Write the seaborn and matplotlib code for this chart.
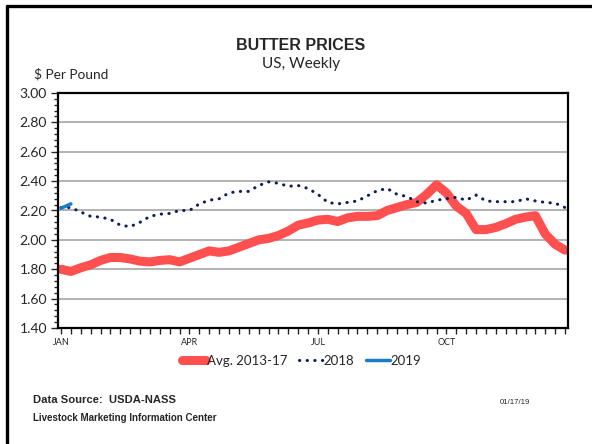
import matplotlib
matplotlib.use("Agg")
import matplotlib.pyplot as plt
import matplotlib.ticker as mticker
from matplotlib.lines import Line2D
import seaborn as sns
import numpy as np

# weekly butter prices, $ per pound
weeks = list(range(1, 53))
avg_13_17 = [1.80, 1.785, 1.81, 1.83, 1.86, 1.88, 1.88, 1.87, 1.855, 1.85,
             1.86, 1.865, 1.85, 1.875, 1.90, 1.925, 1.915, 1.925, 1.95, 1.975,
             2.00, 2.01, 2.03, 2.06, 2.10, 2.115, 2.135, 2.14, 2.125, 2.15,
             2.16, 2.16, 2.165, 2.20, 2.22, 2.24, 2.255, 2.31, 2.375, 2.32,
             2.23, 2.18, 2.07, 2.07, 2.085, 2.11, 2.14, 2.155, 2.165, 2.04,
             1.97, 1.93]
y2018 = [2.22, 2.22, 2.19, 2.16, 2.155, 2.14, 2.10, 2.09, 2.12, 2.16,
         2.175, 2.18, 2.20, 2.20, 2.245, 2.27, 2.28, 2.32, 2.33, 2.33,
         2.37, 2.395, 2.385, 2.365, 2.37, 2.35, 2.31, 2.255, 2.245, 2.255,
         2.265, 2.30, 2.335, 2.35, 2.31, 2.295, 2.26, 2.25, 2.27, 2.28,
         2.29, 2.27, 2.305, 2.265, 2.26, 2.26, 2.26, 2.28, 2.265, 2.255,
         2.25, 2.22]
y2019 = [2.215, 2.245]
month_weeks = [1, 14, 27, 40]
month_labels = ["JAN", "APR", "JUL", "OCT"]

sns.set_style("white")
plt.rcParams['font.family'] = ['Lato', 'DejaVu Sans']

fig = plt.figure(figsize=(5.92, 4.44), dpi=100)
ax = fig.add_axes([58 / 592, 1 - 328 / 444, 510 / 592, 235 / 444])

sns.lineplot(x=weeks, y=avg_13_17, ax=ax, color="#FF4F4F", linewidth=6.5,
             label="Avg. 2013-17")
sns.lineplot(x=weeks, y=y2018, ax=ax, color="#0F1F5C", linewidth=2.2,
             label="2018", linestyle=(0, (0.1, 2.4)), dash_capstyle="round")
sns.lineplot(x=weeks[:len(y2019)], y=y2019, ax=ax, color="#1A7BC6",
             linewidth=2.5, label="2019")

ax.set_xlim(0.7, 52.3)
ax.set_ylim(1.40, 3.00)
ax.yaxis.set_major_locator(mticker.MultipleLocator(0.2))
ax.yaxis.set_minor_locator(mticker.MultipleLocator(0.04))
ax.yaxis.set_major_formatter(mticker.FormatStrFormatter("%.2f"))
ax.set_xticks(weeks, minor=True)
ax.set_xticks(month_weeks)
ax.set_xticklabels(month_labels)
ax.tick_params(axis="x", which="both", direction="out", length=4, width=1,
               labelsize=6.5, pad=3, bottom=True)
ax.tick_params(axis="y", which="major", direction="out", length=5, width=1,
               labelsize=10, pad=3, left=True)
ax.tick_params(axis="y", which="minor", direction="out", length=3, width=1,
               left=True)
ax.grid(axis="y", which="major", color="#A6A6A6", linewidth=1.2)
for sp in ax.spines.values():
    sp.set_color("black")
    sp.set_linewidth(1.6)
ax.set_xlabel("")
ax.set_ylabel("")

ax.legend(loc="center", bbox_to_anchor=(0.478, -0.14), ncol=3, frameon=False,
          fontsize=9.5, handlelength=1.8, handletextpad=0.05,
          columnspacing=0.9)

fig.text(301 / 592, 1 - 45 / 444, "BUTTER PRICES", ha="center", va="center",
         fontsize=11.5, fontweight="bold", family="Liberation Sans")
fig.text(301 / 592, 1 - 64 / 444, "US, Weekly", ha="center", va="center",
         fontsize=11)
fig.text(34 / 592, 1 - 74 / 444, "$ Per Pound", ha="left", va="center",
         fontsize=9.8)
fig.text(33 / 592, 1 - 400 / 444, "Data Source:  USDA-NASS", ha="left",
         va="center", fontsize=8.1, fontweight="bold", family="Liberation Sans")
fig.text(33 / 592, 1 - 418 / 444, "Livestock Marketing Information Center",
         ha="left", va="center", fontsize=7.0, fontweight="bold",
         family="Liberation Sans")
fig.text(500 / 592, 1 - 402 / 444, "01/17/19", ha="left", va="center",
         fontsize=5.6, family="Liberation Sans")

# outer frame (top and left edges)
fig.add_artist(Line2D([7 / 592, 1.0], [1 - 6 / 444, 1 - 6 / 444],
                      color="black", linewidth=2.4))
fig.add_artist(Line2D([7 / 592, 7 / 592], [1 - 6 / 444, 0.0],
                      color="black", linewidth=2.4))

fig.savefig("out.png", dpi=100)
